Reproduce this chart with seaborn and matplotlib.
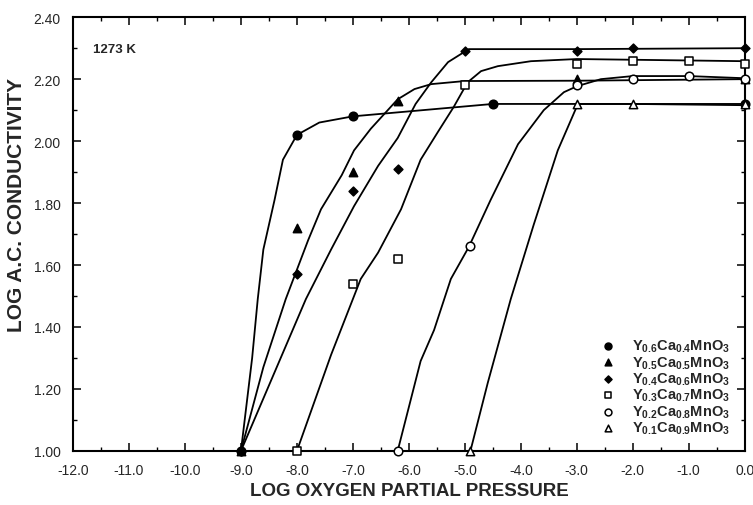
import matplotlib
matplotlib.use("Agg")
import matplotlib.pyplot as plt
import seaborn as sns
import pandas as pd
from matplotlib.ticker import MultipleLocator, FormatStrFormatter

# measured points (log pO2, log conductivity)
y06_x = [-9.0, -8.0, -7.0, -4.5, 0.0]
y06_y = [1.00, 2.02, 2.08, 2.12, 2.12]
y05_x = [-9.0, -8.0, -7.0, -6.2, -3.0, 0.0]
y05_y = [1.00, 1.72, 1.90, 2.13, 2.20, 2.20]
y04_x = [-9.0, -8.0, -7.0, -6.2, -5.0, -3.0, -2.0, 0.0]
y04_y = [1.00, 1.57, 1.84, 1.91, 2.29, 2.29, 2.30, 2.30]
y03_x = [-8.0, -7.0, -6.2, -5.0, -3.0, -2.0, -1.0, 0.0]
y03_y = [1.00, 1.54, 1.62, 2.18, 2.25, 2.26, 2.26, 2.25]
y02_x = [-6.2, -4.9, -3.0, -2.0, -1.0, 0.0]
y02_y = [1.00, 1.66, 2.18, 2.20, 2.21, 2.20]
y01_x = [-4.9, -3.0, -2.0, 0.0]
y01_y = [1.00, 2.12, 2.12, 2.12]

# hand-drawn fit curves
c06_x = [-9.0, -8.8, -8.7, -8.6, -8.4, -8.25, -8.0, -7.6, -7.0, -4.5, 0.0]
c06_y = [1.00, 1.30, 1.49, 1.65, 1.81, 1.94, 2.02, 2.06, 2.08, 2.12, 2.12]
c05_x = [-9.0, -8.6, -8.2, -7.8, -7.57, -7.2, -6.98, -6.68, -6.2, -5.9, -5.6, -5.0, -3.0, 0.0]
c05_y = [1.00, 1.27, 1.49, 1.68, 1.78, 1.89, 1.97, 2.04, 2.135, 2.168, 2.184, 2.194, 2.195, 2.20]
c04_x = [-9.0, -7.84, -7.39, -6.98, -6.55, -6.2, -5.88, -5.6, -5.3, -4.93, -3.0, 0.0]
c04_y = [1.00, 1.49, 1.65, 1.79, 1.92, 2.01, 2.12, 2.19, 2.255, 2.297, 2.297, 2.30]
c03_x = [-8.0, -7.39, -6.86, -6.55, -6.14, -5.79, -5.48, -5.2, -4.95, -4.71, -4.41, -3.82, -3.0, 0.0]
c03_y = [1.00, 1.31, 1.555, 1.64, 1.78, 1.94, 2.03, 2.11, 2.19, 2.226, 2.242, 2.258, 2.265, 2.258]
c02_x = [-6.2, -5.79, -5.55, -5.25, -4.93, -4.54, -4.05, -3.59, -3.23, -3.0, -2.57, -2.0, -1.0, 0.0]
c02_y = [1.00, 1.29, 1.39, 1.555, 1.658, 1.81, 1.99, 2.10, 2.158, 2.177, 2.20, 2.21, 2.21, 2.203]
c01_x = [-4.9, -4.59, -4.18, -3.77, -3.34, -2.98, -2.0, 0.0]
c01_y = [1.00, 1.22, 1.49, 1.73, 1.97, 2.12, 2.12, 2.116]

labels = [r"Y$_{0.6}$Ca$_{0.4}$MnO$_3$", r"Y$_{0.5}$Ca$_{0.5}$MnO$_3$",
          r"Y$_{0.4}$Ca$_{0.6}$MnO$_3$", r"Y$_{0.3}$Ca$_{0.7}$MnO$_3$",
          r"Y$_{0.2}$Ca$_{0.8}$MnO$_3$", r"Y$_{0.1}$Ca$_{0.9}$MnO$_3$"]

sns.set_style("ticks")
plt.rcParams['font.family'] = ['Liberation Sans', 'DejaVu Sans']
plt.rcParams['mathtext.fontset'] = 'custom'
plt.rcParams['mathtext.rm'] = 'Liberation Sans:bold'
plt.rcParams['mathtext.it'] = 'Liberation Sans:bold'
plt.rcParams['mathtext.bf'] = 'Liberation Sans:bold'

fig = plt.figure(figsize=(7.53, 5.06), dpi=100)
ax = fig.add_axes([0.097, 0.107, 0.892, 0.857])

curves = [(c06_x, c06_y), (c05_x, c05_y), (c04_x, c04_y),
          (c03_x, c03_y), (c02_x, c02_y), (c01_x, c01_y)]
for cx, cy in curves:
    sns.lineplot(x=cx, y=cy, ax=ax, sort=False, estimator=None,
                 color='black', linewidth=1.3, legend=False)

pts = [(y06_x, y06_y, 'o', 'black', 38), (y05_x, y05_y, '^', 'black', 36),
       (y04_x, y04_y, 'D', 'black', 20), (y03_x, y03_y, 's', 'white', 38),
       (y02_x, y02_y, 'o', 'white', 38), (y01_x, y01_y, '^', 'white', 36)]
for (px, py, m, fc, s), lab in zip(pts, labels):
    df = pd.DataFrame({'x': px, 'y': py})
    sns.scatterplot(data=df, x='x', y='y', ax=ax, marker=m, s=s,
                    facecolor=fc, edgecolor='black', linewidth=1.1,
                    label=lab, zorder=3, clip_on=False)

ax.set_xlim(-12, 0)
ax.set_ylim(1.0, 2.4)
ax.xaxis.set_major_locator(MultipleLocator(1.0))
ax.xaxis.set_minor_locator(MultipleLocator(0.5))
ax.yaxis.set_major_locator(MultipleLocator(0.2))
ax.yaxis.set_minor_locator(MultipleLocator(0.1))
ax.xaxis.set_major_formatter(FormatStrFormatter('%.1f'))
ax.yaxis.set_major_formatter(FormatStrFormatter('%.2f'))
ax.tick_params(which='both', direction='in', top=True, right=True,
               color='black', labelsize=10)
ax.tick_params(axis='x', which='major', pad=9)
ax.tick_params(axis='y', which='major', pad=9)
ax.tick_params(which='major', length=6, width=1.1)
ax.tick_params(which='minor', length=3, width=1.0)
for sp in ax.spines.values():
    sp.set_linewidth(1.5)
    sp.set_color('black')

ax.set_xlabel('LOG OXYGEN PARTIAL PRESSURE', fontsize=13.5, fontweight='bold', labelpad=3)
ax.set_ylabel('LOG A.C. CONDUCTIVITY', fontsize=15, fontweight='bold')
ax.yaxis.set_label_coords(-0.07, 0.57)
ax.text(0.03, 0.92, '1273 K', transform=ax.transAxes, fontsize=9.5, fontweight='bold')

leg = ax.legend(loc='lower right', frameon=False, fontsize=10.5, handletextpad=0.9,
                labelspacing=0.0, borderaxespad=0.6, markerscale=0.8,
                handlelength=1.5)
for t in leg.get_texts():
    t.set_fontweight('bold')

fig.savefig('out.png', dpi=100)
